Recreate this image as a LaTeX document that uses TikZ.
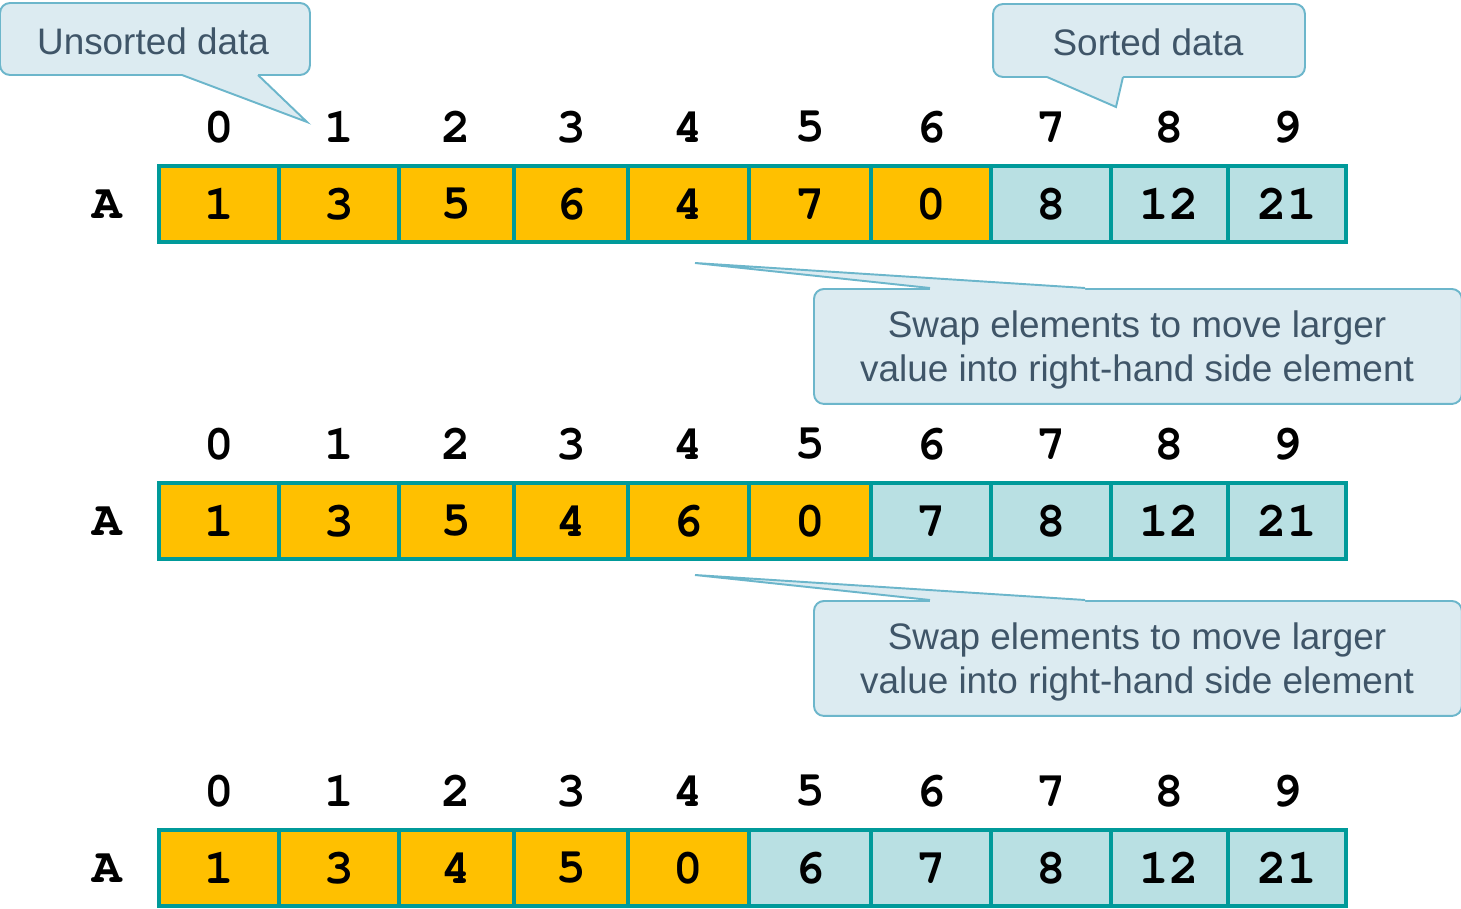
\documentclass[tikz,border=0pt]{standalone}
\usepackage{fontspec}
\setmainfont{Liberation Sans}
\newfontfamily\codefont{TeX Gyre Cursor}
\usetikzlibrary{positioning}
\definecolor{cellOrange}{HTML}{FFC000}
\definecolor{cellBlue}{HTML}{B9E0E3}
\definecolor{cellEdge}{HTML}{009A9A}
\definecolor{noteFill}{HTML}{DCEBF1}
\definecolor{noteEdge}{HTML}{6CB6CB}
\definecolor{noteText}{HTML}{3F5568}

\tikzset{
  cell/.style={draw=cellEdge, line width=2.8pt, minimum height=1.52cm, inner sep=0pt,
    font=\codefont\bfseries\fontsize{28}{28}\selectfont},
  idx/.style={inner sep=0pt, font=\codefont\bfseries\fontsize{28}{28}\selectfont},
  note/.style={draw=noteEdge, fill=noteFill, line width=1.1pt, rounded corners=0.2cm, inner sep=0pt},
  notetext/.style={text=noteText, font=\fontsize{21}{25}\selectfont, align=center, inner sep=0pt},
  pointer/.style={draw=noteEdge, line width=1.1pt, line join=miter}
}
\def\celledges{{159,279,399,514,628,749,871,991,1111,1228,1346}}

\begin{document}
\begin{tikzpicture}[x=0.02cm, y=-0.02cm]
  \useasboundingbox (0,0) rectangle (1461,909);

  % arrays
  \foreach \row/\yy/\nord/\vals in {1/204/7/{1,3,5,6,4,7,0,8,12,21},
                                   2/521/6/{1,3,5,4,6,0,7,8,12,21},
                                   3/868/5/{1,3,4,5,0,6,7,8,12,21}} {
    \node[idx] (a\row) at (107,\yy) {A};
    \foreach \v [count=\c from 0] in \vals {
      \ifnum\c<\nord \def\clr{cellOrange}\else\def\clr{cellBlue}\fi
      \pgfmathsetmacro\xl{\celledges[\c]}
      \pgfmathsetmacro\xr{\celledges[\c+1]}
      \pgfmathsetmacro\cwd{(\xr-\xl)*0.02}
      \node[cell, fill=\clr, minimum width=\cwd cm] (r\row c\c) at ({(\xl+\xr)/2},\yy) {\v};
      \node[idx] (i\row c\c) at ({(\xl+\xr)/2},\yy-77) {\c};
    }
  }

  % callouts
  \node[note, minimum width=6.2cm, minimum height=1.44cm] (unsorted) at (155,39) {};
  \node[notetext] (unsortedText) at (153,41) {Unsorted data};
  \coordinate (unsortedTip) at (307,122);
  \fill[noteFill] (182,72) -- (182,75) -- (unsortedTip) -- (258,75) -- (258,72) -- cycle;
  \draw[pointer] (182,75) -- (unsortedTip) -- (258,75);

  \node[note, minimum width=6.24cm, minimum height=1.46cm] (sorted) at (1149,40.5) {};
  \node[notetext] (sortedText) at (1148,42) {Sorted data};
  \coordinate (sortedTip) at (1116,107);
  \fill[noteFill] (1047,74) -- (1047,77) -- (sortedTip) -- (1123,77) -- (1123,74) -- cycle;
  \draw[pointer] (1047,77) -- (sortedTip) -- (1123,77);

  \foreach \n/\yy in {A/288, B/600} {
    \node[note, minimum width=12.96cm, minimum height=2.3cm, anchor=north west] (swap\n) at (813,\yy) {};
    \node[notetext] (swap\n Text) at (1137,\yy+62) {Swap elements to move larger\\value into right-hand side element};
    \coordinate (swap\n Tip) at (695,\yy-25);
    \fill[noteFill] (930,\yy+3) -- (930,\yy) -- (swap\n Tip) -- (1085,\yy) -- (1085,\yy+3) -- cycle;
    \draw[pointer] (930,\yy) -- (swap\n Tip) -- (1085,\yy);
  }
\end{tikzpicture}
\end{document}
